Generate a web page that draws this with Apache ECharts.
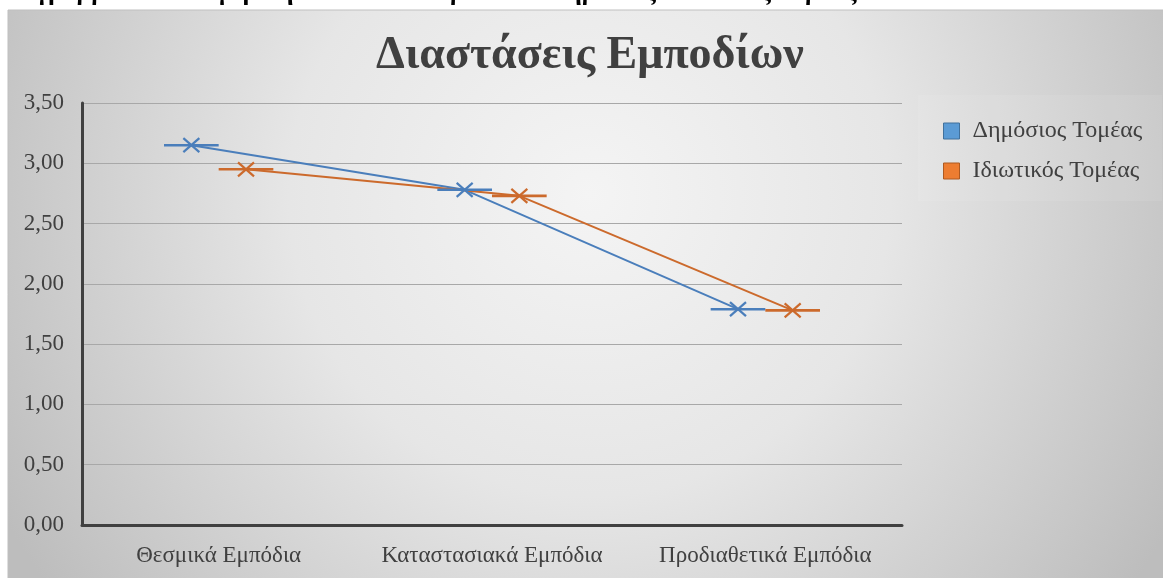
<!DOCTYPE html>
<html>
<head>
<meta charset="utf-8">
<script src="https://cdn.jsdelivr.net/npm/echarts@6/dist/echarts.min.js"></script>
<style>
  html, body { margin: 0; padding: 0; background: #ffffff; }
  #chart { width: 1163px; height: 578px; }
</style>
</head>
<body>
<div id="chart"></div>
<script>
// Barrier dimensions, mean scores by sector
const categories = ['Θεσμικά Εμπόδια', 'Καταστασιακά Εμπόδια', 'Προδιαθετικά Εμπόδια'];
const publicSector = [3.15, 2.78, 1.79];
const privateSector = [2.95, 2.73, 1.78];
const seriesNames = ['Δημόσιος Τομέας', 'Ιδιωτικός Τομέας'];
const yTicks = { min: 0, max: 3.5, step: 0.5 };

const FONT = '"Liberation Serif", "DejaVu Serif", serif';
const TEXT = '#404040';

// Each sector's points sit slightly left / right of the category centre
const seriesDefs = [
  { name: seriesNames[0], values: publicSector, shift: -0.1, line: '#4a7ebb', swatch: '#5b9bd5', border: '#41719c' },
  { name: seriesNames[1], values: privateSector, shift: 0.1, line: '#cc6a2c', swatch: '#ed7d31', border: '#ae5a21' }
];

const chart = echarts.init(document.getElementById('chart'), null, { renderer: 'canvas' });

const series = [];
seriesDefs.forEach(function (d) {
  const pts = d.values.map(function (v, i) { return [i + d.shift, v]; });
  series.push({
    name: d.name,
    type: 'line',
    xAxisIndex: 1,
    data: pts,
    symbol: 'none',
    lineStyle: { color: d.line, width: 2 },
    itemStyle: { color: d.swatch, borderColor: d.border, borderWidth: 1 },
    z: 3
  });
  // X marker with a horizontal tick through each point
  series.push({
    name: d.name,
    type: 'custom',
    xAxisIndex: 1,
    data: pts,
    z: 4,
    renderItem: function (params, api) {
      const p = api.coord([api.value(0), api.value(1)]);
      const half = api.size([0.1, 0])[0];
      const mx = 8, my = 7;
      const st = { stroke: d.line, lineWidth: 2.2, fill: null };
      return {
        type: 'group',
        children: [
          { type: 'line', shape: { x1: p[0] - half, y1: p[1], x2: p[0] + half, y2: p[1] }, style: { stroke: d.line, lineWidth: 2.6 } },
          { type: 'line', shape: { x1: p[0] - mx, y1: p[1] - my, x2: p[0] + mx, y2: p[1] + my }, style: st },
          { type: 'line', shape: { x1: p[0] - mx, y1: p[1] + my, x2: p[0] + mx, y2: p[1] - my }, style: st }
        ]
      };
    }
  });
});

const option = {
  animation: false,
  graphic: [
    {
      type: 'text',
      left: -3,
      top: -20,
      z: 0,
      style: {
        text: 'Διάγραμμα 4.4.1 Σύγκριση διαστάσεων εμποδίων Δημόσιος Ιδιωτικός Τομέας',
        font: 'bold 26px ' + FONT,
        fill: '#000000'
      }
    },
    {
      type: 'rect',
      z: -10,
      shape: { x: 8, y: 10, width: 1163, height: 580 },
      style: {
        fill: new echarts.graphic.RadialGradient(0.5, 0.32, 1.15, [
          { offset: 0, color: '#f4f4f4' },
          { offset: 0.45, color: '#e6e6e6' },
          { offset: 1, color: '#bdbdbd' }
        ]),
        stroke: '#bfbfbf',
        lineWidth: 1
      }
    },
    {
      type: 'rect',
      z: -9,
      shape: { x: 918, y: 95, width: 244, height: 106 },
      style: { fill: 'rgba(255,255,255,0.08)' }
    }
  ],
  title: {
    text: 'Διαστάσεις Εμποδίων',
    left: 585,
    textAlign: 'center',
    top: 28,
    textStyle: { fontFamily: FONT, fontWeight: 'bold', fontSize: 46, color: TEXT }
  },
  legend: {
    orient: 'vertical',
    left: 938,
    top: 114,
    itemWidth: 16,
    itemHeight: 16,
    itemGap: 16,
    icon: 'rect',
    data: seriesDefs.map(function (d) {
      return { name: d.name, itemStyle: { color: d.swatch, borderColor: d.border, borderWidth: 1 } };
    }),
    textStyle: { fontFamily: FONT, fontSize: 24, color: TEXT, padding: [0, 0, 0, 8] }
  },
  grid: { left: 82, right: 261, top: 103, bottom: 53, containLabel: false },
  xAxis: [
    {
      type: 'category',
      data: categories,
      boundaryGap: true,
      axisLine: { show: true, lineStyle: { color: '#404040', width: 3 } },
      axisTick: { show: false },
      axisLabel: { fontFamily: FONT, fontSize: 23, color: TEXT, margin: 19, interval: 0, hideOverlap: false }
    },
    {
      type: 'value',
      min: -0.5,
      max: 2.5,
      show: false
    }
  ],
  yAxis: {
    type: 'value',
    min: yTicks.min,
    max: yTicks.max,
    interval: yTicks.step,
    axisLine: { show: true, onZero: false, lineStyle: { color: '#404040', width: 3 } },
    axisTick: { show: false },
    splitLine: { lineStyle: { color: '#a8a8a8', width: 1.2 } },
    axisLabel: {
      fontFamily: FONT, fontSize: 23, color: TEXT, margin: 18,
      formatter: function (v) { return v.toFixed(2).replace('.', ','); }
    }
  },
  series: series
};

chart.setOption(option);
</script>
</body>
</html>
